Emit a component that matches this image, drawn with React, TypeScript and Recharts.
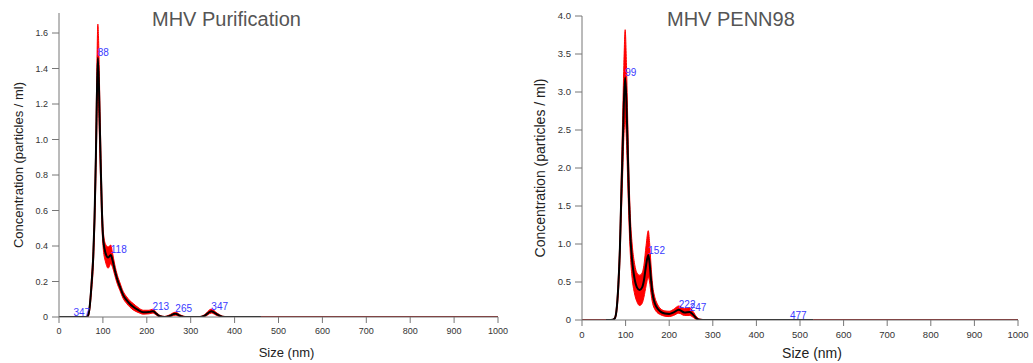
import React from 'react';
import { ComposedChart, Area, Line, XAxis, YAxis, ReferenceDot } from 'recharts';

// MHV Purification
const leftSizes = [0, 20, 40, 55, 62, 66, 70, 74, 78, 81, 84, 86, 88.5, 91, 93, 95, 98, 101, 106, 112, 118, 122, 127, 133, 139, 146, 154, 161, 169, 180, 192, 205, 214, 222, 230, 240, 250, 265, 278, 290, 320, 332, 347, 360, 372, 385, 460];
const leftMean = [0, 0, 0, 0, 0, 0.008, 0.06, 0.18, 0.34, 0.56, 0.9, 1.2, 1.46, 1.3, 1.07, 0.86, 0.58, 0.43, 0.36, 0.335, 0.35, 0.32, 0.265, 0.21, 0.17, 0.125, 0.095, 0.075, 0.058, 0.04, 0.027, 0.028, 0.033, 0.018, 0.004, 0, 0.005, 0.018, 0.005, 0, 0, 0.008, 0.033, 0.015, 0.002, 0, 0];
const leftLow = [0, 0, 0, 0, 0, 0, 0.04, 0.14, 0.28, 0.48, 0.78, 1.04, 1.28, 1.12, 0.92, 0.74, 0.5, 0.38, 0.31, 0.275, 0.3, 0.28, 0.235, 0.185, 0.148, 0.105, 0.076, 0.057, 0.04, 0.026, 0.016, 0.018, 0.022, 0.01, 0, 0, 0.001, 0.01, 0.001, 0, 0, 0.003, 0.022, 0.008, 0, 0, 0];
const leftHigh = [0, 0, 0, 0, 0.003, 0.015, 0.08, 0.22, 0.4, 0.64, 1.02, 1.36, 1.65, 1.48, 1.22, 0.98, 0.66, 0.48, 0.41, 0.395, 0.405, 0.36, 0.295, 0.235, 0.192, 0.145, 0.114, 0.093, 0.076, 0.054, 0.038, 0.038, 0.044, 0.026, 0.009, 0.003, 0.01, 0.027, 0.01, 0.002, 0.002, 0.014, 0.045, 0.022, 0.005, 0, 0];
const leftPeakX = [88, 118, 213, 265, 347, 33];
const leftPeakY = [1.46, 0.35, 0.033, 0.018, 0.033, 0];
const leftPeakText = ['88', '118', '213', '265', '347', '347'];
const leftTraceSizes = [460, 1000];
const leftYTicks = [0, 0.2, 0.4, 0.6, 0.8, 1.0, 1.2, 1.4, 1.6];

// MHV PENN98
const rightSizes = [0, 55, 62, 70, 75, 79, 83, 87, 90, 93, 96, 99, 102, 105, 108, 111, 115, 120, 126, 132, 138, 142, 147, 152, 155, 158, 162, 167, 172, 180, 190, 200, 210, 222, 235, 247, 255, 263, 270, 285, 350, 530];
const rightMean = [0, 0, 0, 0.003, 0.02, 0.12, 0.42, 0.95, 1.6, 2.2, 2.85, 3.19, 2.85, 2.2, 1.55, 1.1, 0.78, 0.56, 0.43, 0.395, 0.43, 0.52, 0.72, 0.855, 0.75, 0.55, 0.34, 0.22, 0.16, 0.11, 0.085, 0.08, 0.1, 0.135, 0.1, 0.105, 0.07, 0.02, 0.005, 0, 0, 0];
const rightLow = [0, 0, 0, 0, 0.01, 0.08, 0.32, 0.78, 1.34, 1.86, 2.4, 2.65, 2.35, 1.8, 1.25, 0.85, 0.55, 0.36, 0.24, 0.19, 0.22, 0.3, 0.45, 0.56, 0.5, 0.36, 0.22, 0.14, 0.1, 0.07, 0.05, 0.045, 0.06, 0.09, 0.06, 0.06, 0.035, 0.005, 0, 0, 0, 0];
const rightHigh = [0, 0, 0.002, 0.008, 0.035, 0.17, 0.52, 1.12, 1.88, 2.6, 3.35, 3.82, 3.35, 2.6, 1.85, 1.35, 1.0, 0.76, 0.62, 0.59, 0.62, 0.72, 0.98, 1.175, 1.02, 0.75, 0.46, 0.3, 0.22, 0.15, 0.12, 0.115, 0.14, 0.185, 0.15, 0.16, 0.11, 0.04, 0.012, 0.002, 0, 0];
const rightPeakX = [99, 152, 222, 247, 477];
const rightPeakY = [3.19, 0.855, 0.135, 0.105, 0];
const rightPeakText = ['99', '152', '222', '247', '477'];
const rightTraceSizes = [0, 55, 530, 1000];
const rightYTicks = [0, 0.5, 1.0, 1.5, 2.0, 2.5, 3.0, 3.5, 4.0];

const xTicks = [0, 100, 200, 300, 400, 500, 600, 700, 800, 900, 1000];

const buildRows = (sizes: number[], mean: number[], low: number[], high: number[]) =>
  sizes.map((s, i) => ({ size: s, mean: mean[i], band: [low[i], high[i]] }));

const AXIS = '#777';
const TICK_TXT = '#333';

type PanelProps = {
  left: number;
  width: number;
  top: number;
  plotLeft: number;
  yMax: number;
  yTicks: number[];
  rows: { size: number; mean: number; band: number[] }[];
  trace: number[];
  peakX: number[];
  peakY: number[];
  peakText: string[];
  title: string;
  titleLeft: number;
  fontSize: number;
  tickFont: number;
  yLabelOffset: number;
  xLabelDx: number;
  xLabelOffset: number;
};

function Panel(p: PanelProps) {
  // trace pairs: [from, to] segments drawn dark red along zero
  const segs: { size: number; v: number }[][] = [];
  for (let i = 0; i < p.trace.length; i += 2) {
    segs.push([{ size: p.trace[i], v: 0 }, { size: p.trace[i + 1], v: 0 }]);
  }
  return (
    <div style={{ position: 'absolute', left: p.left, top: 0 }}>
      <ComposedChart width={p.width} height={363} data={p.rows}
        margin={{ top: p.top, right: 12, bottom: 0, left: 0 }}>
        <XAxis dataKey="size" type="number" domain={[0, 1000]} ticks={xTicks} interval={0}
          height={363 - p.top - 304} tickSize={6} tickMargin={5}
          tick={{ fontSize: p.tickFont, fill: TICK_TXT }} axisLine={{ stroke: AXIS }} tickLine={{ stroke: AXIS }}
          label={{ value: 'Size (nm)', position: 'insideBottom', offset: p.xLabelOffset, dx: p.xLabelDx, fontSize: p.fontSize, fill: '#222' }} />
        <YAxis type="number" domain={[0, p.yMax]} ticks={p.yTicks} interval={0} width={p.plotLeft}
          tickSize={7} tickMargin={4} allowDataOverflow
          tickFormatter={(v: number) => (v === 0 ? '0' : v.toFixed(1))}
          tick={{ fontSize: p.tickFont, fill: TICK_TXT }} axisLine={{ stroke: AXIS }} tickLine={{ stroke: AXIS }}
          label={{ value: 'Concentration (particles / ml)', angle: -90, position: 'insideLeft', offset: p.yLabelOffset, fontSize: p.fontSize, fill: '#222', style: { textAnchor: 'middle' } }} />
        <Area dataKey="band" type="monotone" fill="#ff0000" fillOpacity={1} stroke="#ff0000" strokeWidth={1} isAnimationActive={false} />
        <Line dataKey="mean" type="monotone" stroke="#000" strokeWidth={2} dot={false} isAnimationActive={false} />
        {segs.map((d, i) => (
          <Line key={'t' + i} data={d} dataKey="v" type="linear" stroke="#8a1414" strokeWidth={2} dot={false} isAnimationActive={false} />
        ))}
        {p.peakX.map((x, i) => (
          <ReferenceDot key={'p' + i} x={x} y={p.peakY[i]} r={0}
            shape={(s: any) => (
              <text x={s.cx} y={s.cy - 5} fill="#3a3aff" fontSize={10} dominantBaseline="central">{p.peakText[i]}</text>
            )} />
        ))}
      </ComposedChart>
      <div style={{ position: 'absolute', left: p.titleLeft, top: 7, fontSize: 20, color: '#555', lineHeight: '24px', whiteSpace: 'nowrap' }}>{p.title}</div>
    </div>
  );
}

export default function App() {
  return (
    <div style={{ position: 'fixed', left: 0, top: 0, width: 1033, height: 363, background: '#fff', fontFamily: '"Liberation Sans", Arial, sans-serif' }}>
      <Panel left={0} width={510} top={13} plotLeft={59} yMax={304 / 177.5} yTicks={leftYTicks}
        rows={buildRows(leftSizes, leftMean, leftLow, leftHigh)} trace={leftTraceSizes}
        peakX={leftPeakX} peakY={leftPeakY} peakText={leftPeakText}
        title="MHV Purification" titleLeft={152} fontSize={13} tickFont={9}
        yLabelOffset={18} xLabelDx={8} xLabelOffset={6} />
      <Panel left={520} width={510} top={16} plotLeft={62} yMax={4} yTicks={rightYTicks}
        rows={buildRows(rightSizes, rightMean, rightLow, rightHigh)} trace={rightTraceSizes}
        peakX={rightPeakX} peakY={rightPeakY} peakText={rightPeakText}
        title="MHV PENN98" titleLeft={147} fontSize={14} tickFont={9.5}
        yLabelOffset={20} xLabelDx={12} xLabelOffset={5} />
    </div>
  );
}
